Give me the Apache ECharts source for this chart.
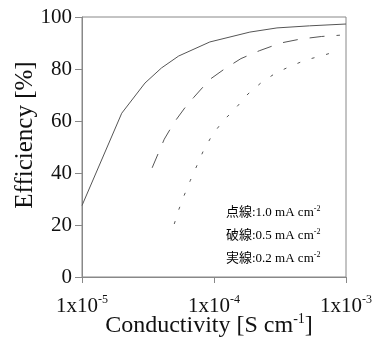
<!DOCTYPE html>
<html>
<head>
<meta charset="utf-8">
<script src="https://cdn.jsdelivr.net/npm/echarts@6/dist/echarts.min.js"></script>
<style>
  html, body { margin: 0; padding: 0; background: #fff; }
  #chart { width: 378px; height: 340px; }
</style>
</head>
<body>
<div id="chart"></div>
<script>
// conductivity [S cm-1] vs efficiency [%]
var solidX = [1e-5, 2.0e-5, 3.0e-5, 4.0e-5, 5.4e-5, 9.3e-5, 1.87e-4, 3.0e-4, 5.3e-4, 1e-3]
var solidY = [27.5, 63, 74.6, 80.4, 85, 90.4, 94.2, 95.8, 96.6, 97.3]

var dashX = [3.4e-5, 4.2e-5, 5.0e-5, 6.0e-5, 7.0e-5, 9.3e-5, 1.2e-4, 1.6e-4, 2.2e-4, 3.2e-4, 4.5e-4, 6.5e-4, 9.0e-4]
var dashY = [42, 53, 59.5, 65, 69, 76, 80, 84, 87, 90, 91.5, 92.5, 93]

var dotX = [5.0e-5, 5.4e-5, 5.9e-5, 6.6e-5, 7.4e-5, 8.3e-5, 9.7e-5, 1.17e-4, 1.44e-4, 1.81e-4, 2.31e-4, 2.95e-4, 3.77e-4, 4.98e-4, 6.46e-4, 8.1e-4]
var dotY = [20.4, 25.8, 31, 37, 42.7, 48.5, 54.6, 60, 64.6, 70.4, 75, 78.5, 81, 83.5, 85, 86.5]

var yTicks = [0, 20, 40, 60, 80, 100]
var legendLines = [
  ['点線:1.0 mA cm', '-2'],
  ['破線:0.5 mA cm', '-2'],
  ['実線:0.2 mA cm', '-2']
]

function pairs(xs, ys) {
  return xs.map(function (x, i) { return [x, ys[i]] })
}

var serif = 'Liberation Serif, Noto Sans CJK JP, serif'
var lineColor = '#555'

var myChart = echarts.init(document.getElementById('chart'))

var legendGraphic = legendLines.map(function (l, i) {
  return {
    type: 'text',
    left: 226,
    top: 205 + i * 23,
    style: {
      text: '{a|' + l[0] + '}{s|' + l[1] + '}',
      rich: {
        a: { fontFamily: serif, fontSize: 13, color: '#111' },
        s: { fontFamily: serif, fontSize: 8, color: '#111', padding: [0, 0, 7, 0] }
      }
    }
  }
})

var option = {
  animation: false,
  grid: {
    left: 82,
    right: 32,
    top: 17,
    bottom: 63,
    outerBoundsMode: 'none',
    containLabel: false,
    show: true,
    borderColor: '#888',
    borderWidth: 1
  },
  xAxis: {
    type: 'log',
    logBase: 10,
    min: 1e-5,
    max: 1e-3,
    name: '{a|Conductivity [S cm}{s|-1}{a|]}',
    nameLocation: 'middle',
    nameGap: 35,
    nameMoveOverlap: false,
    nameTextStyle: {
      padding: [0, 10, 0, 0],
      rich: {
        a: { fontFamily: serif, fontSize: 24, color: '#111' },
        s: { fontFamily: serif, fontSize: 14, color: '#111', padding: [0, 0, 13, 0] }
      }
    },
    axisLine: { lineStyle: { color: '#888' } },
    axisTick: { show: true, inside: false, length: 6, lineStyle: { color: '#888' } },
    minorTick: { show: false },
    splitLine: { show: false },
    axisLabel: {
      margin: 17,
      formatter: function (v) {
        var e = Math.round(Math.log10(v))
        return '{a|1x10}{s|' + e + '}'
      },
      rich: {
        a: { fontFamily: serif, fontSize: 21, color: '#111' },
        s: { fontFamily: serif, fontSize: 12, color: '#111', padding: [0, 0, 12, 0] }
      }
    }
  },
  yAxis: {
    type: 'value',
    min: yTicks[0],
    max: yTicks[yTicks.length - 1],
    interval: 20,
    name: 'Efficiency [%]',
    nameLocation: 'middle',
    nameGap: 44,
    nameMoveOverlap: false,
    nameTextStyle: { fontFamily: serif, fontSize: 25, color: '#111', padding: [0, 0, 0, 24] },
    axisLine: { show: true, lineStyle: { color: '#888' } },
    axisTick: { show: true, inside: false, length: 7, lineStyle: { color: '#888' } },
    splitLine: { show: false },
    axisLabel: { fontFamily: serif, fontSize: 21, color: '#111', margin: 10, padding: [5, 0, 0, 0] }
  },
  graphic: legendGraphic,
  series: [
    {
      name: '実線',
      type: 'line',
      data: pairs(solidX, solidY),
      showSymbol: false,
      lineStyle: { color: lineColor, width: 1 }
    },
    {
      name: '破線',
      type: 'line',
      data: pairs(dashX, dashY),
      showSymbol: false,
      lineStyle: { color: lineColor, width: 1, type: [15, 12] }
    },
    {
      name: '点線',
      type: 'line',
      data: pairs(dotX, dotY),
      showSymbol: false,
      lineStyle: { color: lineColor, width: 1, type: [3, 12] }
    }
  ]
}
myChart.setOption(option)
</script>
</body>
</html>
